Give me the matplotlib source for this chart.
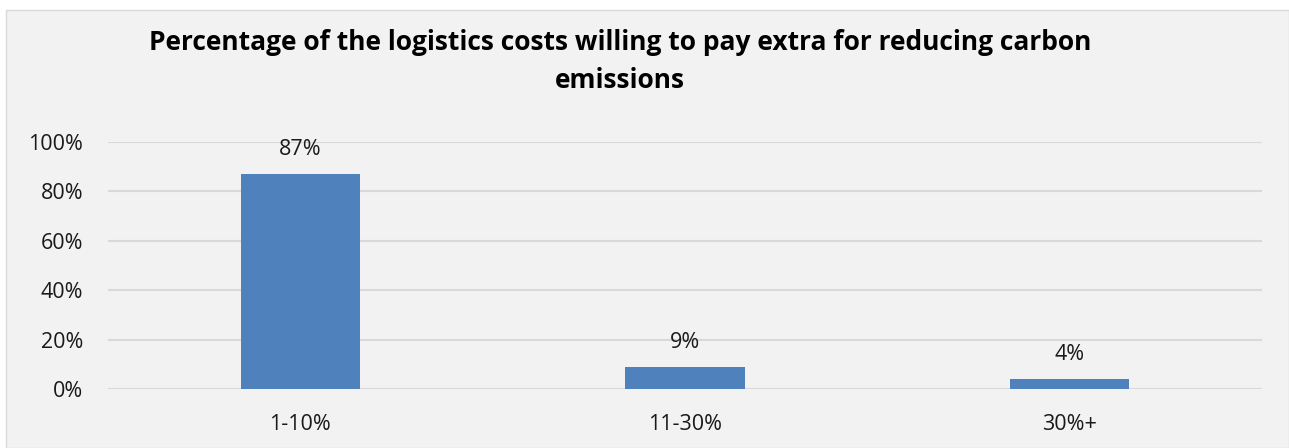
import matplotlib.pyplot as plt
import numpy as np

categories = ['1-10%', '11-30%', '30%+']
values = [87, 9, 4]
yticks = [0, 20, 40, 60, 80, 100]

plt.rcParams['font.family'] = ['Open Sans', 'DejaVu Sans']

fig = plt.figure(figsize=(12.89, 4.48), dpi=100)
fig.patch.set_facecolor('white')
# gray chart area, offset from the top/left edges like the screenshot
bg = plt.Rectangle((6 / 1289, 0), 1 - 6 / 1289, 1 - 10 / 448,
                   transform=fig.transFigure, facecolor='#F2F2F2',
                   edgecolor='#D9D9D9', linewidth=1, zorder=-10)
fig.patches.append(bg)

ax = fig.add_axes([108 / 1289, (448 - 389) / 448, (1262 - 108) / 1289, (389 - 142) / 448])
ax.set_facecolor('none')

x = np.arange(len(categories))
ax.bar(x, values, width=0.31, color='#4F81BD', zorder=3)
for xi, v in zip(x, values):
    ax.annotate(f'{v}%', (xi, v), xytext=(0, 10), textcoords='offset points',
                ha='center', va='bottom', fontsize=15.5, color='#1a1a1a')

ax.set_xlim(-0.5, 2.5)
ax.set_ylim(0, 100)
ax.set_yticks(yticks)
ax.set_yticklabels([f'{t}%' for t in yticks], fontsize=15.5, color='#1a1a1a')
ax.set_xticks(x)
ax.set_xticklabels(categories, fontsize=15.5, color='#1a1a1a')
ax.tick_params(length=0)
ax.tick_params(axis='y', pad=18)
ax.tick_params(axis='x', pad=18)
ax.grid(axis='y', color='#D9D9D9', linewidth=1.5, zorder=0)
ax.set_axisbelow(True)
for s in ax.spines.values():
    s.set_visible(False)

fig.text(620 / 1289, 1 - 43 / 448,
         'Percentage of the logistics costs willing to pay extra for reducing carbon',
         ha='center', va='center', fontsize=19, fontweight='bold', color='black')
fig.text(620 / 1289, 1 - 81 / 448, 'emissions',
         ha='center', va='center', fontsize=19, fontweight='bold', color='black')

fig.savefig('out.png', dpi=100, facecolor=fig.get_facecolor())
